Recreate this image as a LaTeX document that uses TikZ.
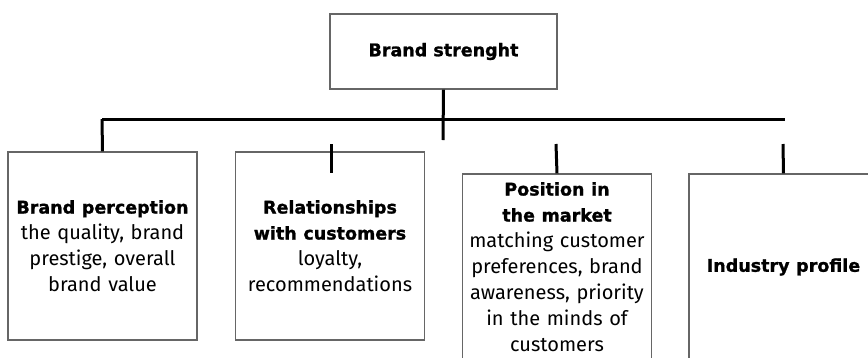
\documentclass[tikz,border=0pt]{standalone}
\usepackage{fontspec}
\setmainfont{Fira Sans}
\newfontfamily\heavyfont{DejaVu Sans}[BoldFeatures={FakeBold=1.2}]
\newcommand{\hvy}[1]{{\heavyfont\bfseries\fontsize{17.5}{26}\selectfont #1}}
\usetikzlibrary{positioning}

\begin{document}
\begin{tikzpicture}[
        x=1pt, y=-1pt,
        every node/.style={font=\fontsize{20}{26}\selectfont, align=center, inner sep=0pt},
        topbox/.style={draw=black!60, line width=1.2pt, minimum width=227pt, minimum height=75pt},
        infobox/.style={draw=black!60, line width=1.2pt, minimum width=189pt, text width=186pt},
        conn/.style={line width=3pt}
      ]
      \useasboundingbox (0,0) rectangle (868,357);
      \node[topbox] (strength) at (443.5,51.5) {\hvy{Brand strenght}};
      \node[infobox, minimum height=188pt] (perception) at (102.5,246)
        {\hvy{Brand perception}\\the quality, brand\\prestige, overall\\brand value};
      \node[infobox, minimum height=188pt] (relations) at (330,246)
        {\hvy{Relationships}\\\hvy{with customers}\\loyalty,\\recommendations};
      \node[infobox, minimum height=186pt] (market) at (557,267)
        {\hvy{Position in}\\\hvy{the market}\\matching customer\\preferences, brand\\awareness, priority\\in the minds of\\customers};
      \node[infobox, minimum height=186pt] (profile) at (783.5,267) {\hvy{Industry profile}};
      % bus and stubs
      \coordinate (drop) at (443,140);
      \coordinate (busL) at (102,119);
      \coordinate (busR) at (785,119);
      \coordinate (stubA) at (331,144);
      \coordinate (stubB) at (556,144);
      \coordinate (stubC) at (783,144);
      \draw[conn] (strength.south) -- (drop);
      \draw[conn] (busL) -- (busR);
      \draw[conn] (busL) -- (perception.north);
      \draw[conn] (stubA) -- (stubA |- market.north);
      \draw[conn] (stubB) -- (market.north);
      \draw[conn] (stubC) -- (profile.north);
      \end{tikzpicture}
\end{document}
